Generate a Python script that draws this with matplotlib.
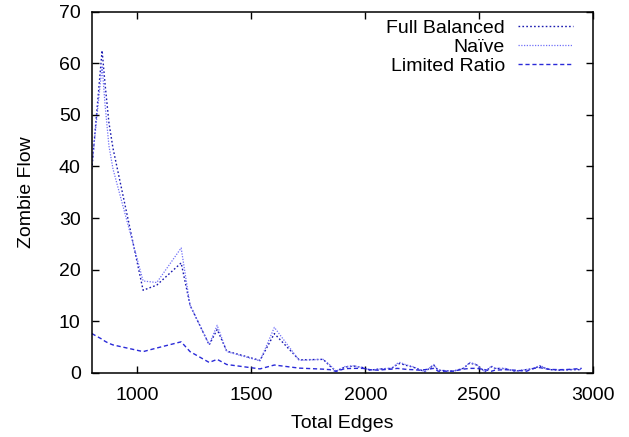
import matplotlib
matplotlib.use("Agg")
import matplotlib.pyplot as plt

plt.rcParams['font.family'] = ['Liberation Sans', 'DejaVu Sans']

edges = [800, 845, 858, 875, 893, 1025, 1085, 1192, 1231, 1315, 1350, 1392, 1538, 1601,
         1710, 1815, 1845, 1872, 1910, 1950, 1990, 2020, 2056, 2094, 2116, 2140, 2152,
         2182, 2209, 2240, 2262, 2300, 2320, 2385, 2430, 2459, 2489, 2525, 2554, 2569,
         2613, 2657, 2708, 2738, 2766, 2788, 2810, 2854, 2898, 2950]

full_balanced = [39.5, 62.5, 56.0, 48.5, 43.5, 16.0, 17.0, 21.3, 13.1, 5.4, 8.4, 4.2, 2.4, 7.6,
                 2.5, 2.6, 1.3, 0.3, 1.1, 1.3, 1.0, 0.5, 0.7, 0.8, 0.85, 1.6, 1.8,
                 1.4, 1.1, 0.6, 0.2, 1.5, 0.5, 0.3, 0.85, 1.9, 1.5, 0.2, 1.2, 0.85,
                 0.8, 0.3, 0.6, 0.8, 1.3, 0.9, 0.6, 0.5, 0.6, 0.6]

naive = [40.0, 59.5, 52.0, 44.0, 39.5, 17.8, 17.5, 24.2, 13.1, 5.5, 9.2, 4.1, 2.3, 8.8,
         2.4, 2.6, 1.5, 0.3, 1.2, 1.35, 1.0, 0.5, 0.7, 0.85, 0.85, 1.8, 2.0,
         1.5, 1.2, 0.6, 0.2, 1.6, 0.5, 0.3, 0.85, 2.0, 1.6, 0.2, 1.3, 0.85,
         0.85, 0.3, 0.65, 0.85, 1.4, 1.0, 0.65, 0.5, 0.65, 0.65]

limited_ratio = [7.6, 6.5, 6.1, 5.7, 5.4, 4.1, 4.8, 6.0, 4.1, 2.0, 2.6, 1.6, 0.75, 1.5,
                 0.9, 0.7, 0.6, 0.25, 0.8, 0.85, 0.85, 0.6, 0.5, 0.65, 0.7, 0.85, 0.8,
                 0.65, 0.6, 0.5, 0.6, 0.85, 0.3, 0.3, 0.7, 0.85, 0.85, 0.6, 0.3, 0.5,
                 0.6, 0.5, 0.3, 0.85, 1.0, 0.8, 0.65, 0.6, 0.65, 0.85]

FS = 14

fig = plt.figure(figsize=(6.29, 4.37), dpi=100)
ax = fig.add_axes([0.146, 0.147, 0.797, 0.826])

ax.plot(edges, full_balanced, color='#1a1ab0', lw=1.0, linestyle=(0, (1.2, 1.6)), label='Full Balanced')
ax.plot(edges, naive, color='#7070f8', lw=0.9, linestyle=(0, (1.0, 1.2)), label='Naïve')
ax.plot(edges, limited_ratio, color='#2a2ad8', lw=1.0, linestyle=(0, (3, 2)), label='Limited Ratio')

ax.set_xlim(800, 3000)
ax.set_ylim(0, 70)
ax.set_xticks([1000, 1500, 2000, 2500, 3000])
ax.set_yticks(range(0, 71, 10))
ax.tick_params(direction='in', top=True, right=True, length=5, width=1, labelsize=FS)
ax.tick_params(axis='x', pad=10)
ax.tick_params(axis='y', pad=8)
for s in ax.spines.values():
    s.set_linewidth(1.1)

ax.set_xlabel('Total Edges', fontsize=FS, labelpad=8)
ax.set_ylabel('Zombie Flow', fontsize=FS, labelpad=17)

leg = ax.legend(loc='upper right', frameon=False, markerfirst=False, fontsize=FS,
                handlelength=2.85, handletextpad=0.67, labelspacing=0.07,
                borderaxespad=0.0, bbox_to_anchor=(0.976, 1.0))
for t in leg.get_texts():
    t.set_ha('right')
leg._legend_box.align = 'right'

fig.savefig('out.png', dpi=100)
